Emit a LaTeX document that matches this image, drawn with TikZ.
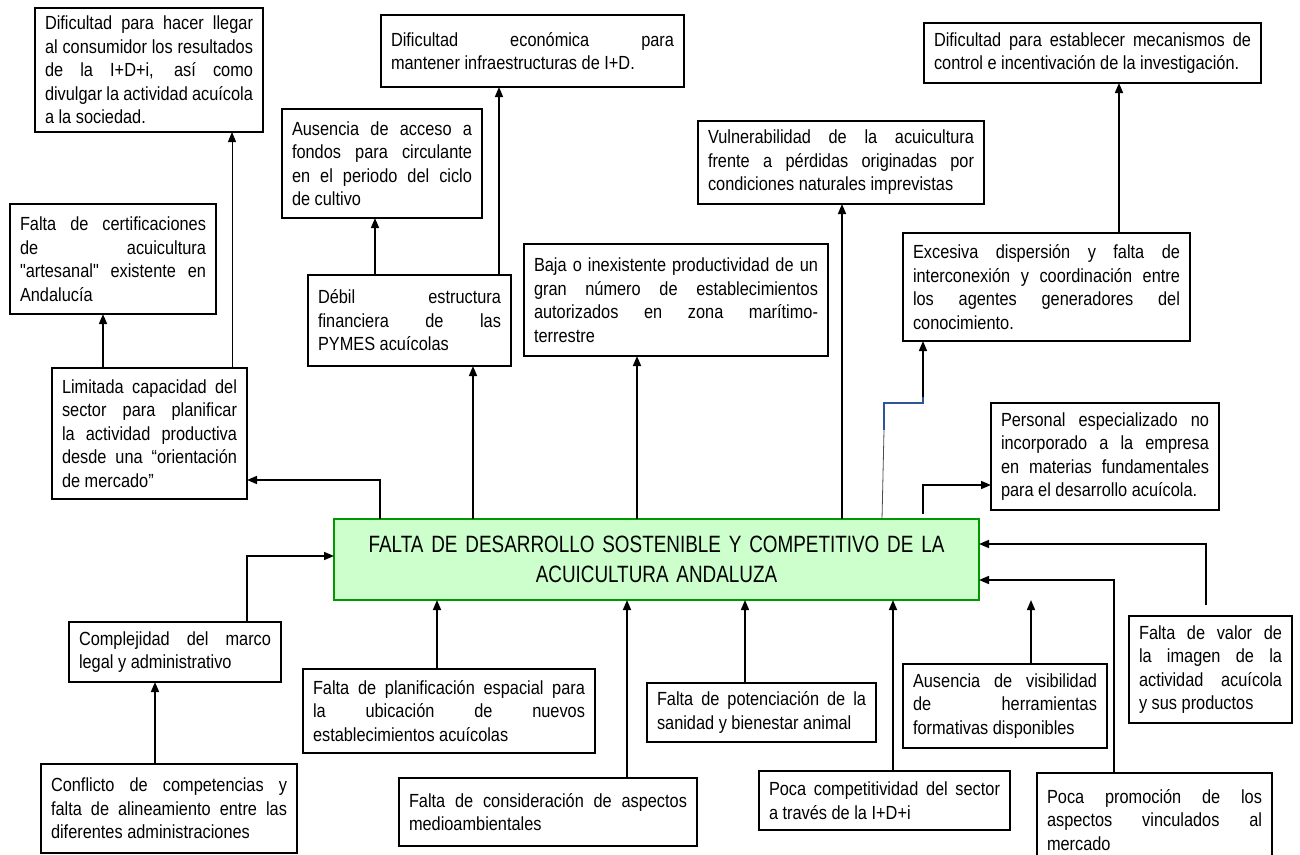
\documentclass[tikz,border=0pt]{standalone}
\usepackage{fontspec}
\newfontfamily\bodyfont[FakeStretch=0.86,Ligatures=TeXOff]{Liberation Sans}
\newfontfamily\titlefont[FakeStretch=0.8]{Liberation Sans}
\usetikzlibrary{arrows.meta,calc}
\definecolor{mainline}{RGB}{0,153,0}
\definecolor{mainfill}{RGB}{204,255,204}
\definecolor{bluelink}{RGB}{47,85,151}
\newlength\boxw
\newcommand\J[1]{\hbox to \boxw{\spaceskip=0pt\xspaceskip=0pt #1}}
\newcommand\Lst[1]{\hbox{\spaceskip=0pt\xspaceskip=0pt #1}}
\newcommand\Tx[1]{\vbox{\spaceskip=0pt\xspaceskip=0pt #1}}
\hbadness=10000
\begin{document}
\begin{tikzpicture}[x=1pt,y=-1pt,
  box/.style={draw, line width=1.6pt, inner xsep=10pt, inner ysep=0pt, outer sep=0pt,
    align=left, fill=white, font=\bodyfont\fontsize{19}{23.5}\selectfont},
  tw/.style={text width=#1, execute at begin node={\setlength{\boxw}{#1}}},
  mainbox/.style={draw=mainline, fill=mainfill, line width=1.6pt, inner sep=0pt, outer sep=0pt,
    align=center, font=\titlefont\fontsize{23.6}{30}\selectfont},
  arr/.style={line width=1.6pt, -{Triangle[length=10pt,width=8pt]}},
  thinarr/.style={line width=0.9pt, -{Triangle[length=10pt,width=8pt]}},
  bluepath/.style={draw=bluelink, line width=1.3pt},
  graypath/.style={draw=black!70, line width=0.8pt}]
\fill[white] (0,0) rectangle (1300,854);
\useasboundingbox (0,0) rectangle (1300,854);

% top area
\node[box, tw=208pt, minimum height=124pt] (A) at (149,70)
  {\Tx{\J{Dificultad para hacer llegar}\J{al consumidor los resultados}\J{de la I+D+i, así como}\J{divulgar la actividad acuícola}\Lst{a la sociedad.}}};
\node[box, tw=283pt, minimum height=72pt] (B) at (532.5,51)
  {\Tx{\J{Dificultad económica para}\Lst{mantener infraestructuras de I+D.}}};
\node[box, tw=180pt, minimum height=109pt] (C) at (382,163.5)
  {\Tx{\J{Ausencia de acceso a}\J{fondos para circulante}\J{en el periodo del ciclo}\Lst{de cultivo}}};
\node[box, tw=186pt, minimum height=110pt] (D) at (113,259)
  {\Tx{\J{Falta de certificaciones}\J{de acuicultura}\J{"artesanal" existente en}\Lst{Andalucía}}};
\node[box, tw=183pt, minimum height=91pt] (E) at (409.5,320.5)
  {\Tx{\J{Débil estructura}\J{financiera de las}\Lst{PYMES acuícolas}}};
\node[box, tw=284pt, minimum height=112pt] (F) at (676,300)
  {\Tx{\J{Baja o inexistente productividad de un}\J{gran número de establecimientos}\J{autorizados en zona marítimo-}\Lst{terrestre}}};
\node[box, tw=175pt, minimum height=131pt] (G) at (149.5,433.5)
  {\Tx{\J{Limitada capacidad del}\J{sector para planificar}\J{la actividad productiva}\J{desde una “orientación}\Lst{de mercado”}}};
\node[box, tw=317pt, minimum height=60pt] (H) at (1092.5,53)
  {\Tx{\J{Dificultad para establecer mecanismos de}\Lst{control e incentivación de la investigación.}}};
\node[box, tw=266pt, minimum height=83pt] (I) at (841,162.5)
  {\Tx{\J{Vulnerabilidad de la acuicultura}\J{frente a pérdidas originadas por}\Lst{condiciones naturales imprevistas}}};
\node[box, tw=267pt, minimum height=108pt] (J) at (1046.5,287)
  {\Tx{\J{Excesiva dispersión y falta de}\J{interconexión y coordinación entre}\J{los agentes generadores del}\Lst{conocimiento.}}};
\node[box, tw=208pt, minimum height=107pt] (K) at (1105,456.5)
  {\Tx{\J{Personal especializado no}\J{incorporado a la empresa}\J{en materias fundamentales}\Lst{para el desarrollo acuícola.}}};

% central box
\node[mainbox, minimum width=645pt, minimum height=81pt, text width=620pt] (main) at (656.5,559.5)
  {FALTA DE DESARROLLO SOSTENIBLE Y COMPETITIVO DE LA\\ ACUICULTURA ANDALUZA};

% bottom area
\node[box, tw=192pt, minimum height=60pt] (L) at (175,652)
  {\Tx{\J{Complejidad del marco}\Lst{legal y administrativo}}};
\node[box, tw=236pt, minimum height=89pt] (M) at (169,808.5)
  {\Tx{\J{Conflicto de competencias y}\J{falta de alineamiento entre las}\Lst{diferentes administraciones}}};
\node[box, tw=272pt, minimum height=84pt] (N) at (449,711)
  {\Tx{\J{Falta de planificación espacial para}\J{la ubicación de nuevos}\Lst{establecimientos acuícolas}}};
\node[box, tw=278pt, minimum height=68pt] (O) at (548,812)
  {\Tx{\J{Falta de consideración de aspectos}\Lst{medioambientales}}};
\node[box, tw=209pt, minimum height=59pt] (P) at (761.5,712.5)
  {\Tx{\J{Falta de potenciación de la}\Lst{sanidad y bienestar animal}}};
\node[box, tw=231pt, minimum height=59pt] (Q) at (884.5,800.5)
  {\Tx{\J{Poca competitividad del sector}\Lst{a través de la I+D+i}}};
\node[box, tw=184pt, minimum height=84pt] (R) at (1005,706)
  {\Tx{\J{Ausencia de visibilidad}\J{de herramientas}\Lst{formativas disponibles}}};
\node[box, tw=143pt, minimum height=107pt] (S) at (1210.5,669.5)
  {\Tx{\J{Falta de valor de}\J{la imagen de la}\J{actividad acuícola}\Lst{y sus productos}}};
\node[box, tw=215pt, minimum height=94pt] (T) at (1154.5,820)
  {\Tx{\J{Poca promoción de los}\J{aspectos vinculados al}\Lst{mercado}}};

% free-end coordinates
\coordinate (Rtip) at (1031,600);
\coordinate (b1) at (884,430);
\coordinate (b2) at (923,377);
\coordinate (b3) at (923,397);

% connectors from central box upward
\draw[arr] (main.north -| 380,0) |- (G.east |- 0,480);
\draw[arr] (main.north -| 473,0) -- (E.south -| 473,0);
\draw[arr] (main.north -| 637,0) -- (F.south -| 637,0);
\draw[arr] (main.north -| 842,0) -- (I.south -| 842,0);
\draw[graypath] (main.north -| 882,0) -- (b1);
\draw[bluepath] (b1) |- (b2 |- 0,403) -- (b2);
\draw[arr] (b3) -- (J.south -| b3);
\draw[arr] ($(main.north -| 923,0)+(0,-5)$) |- (K.west |- 0,485);

% upper chains
\draw[arr] (G.north -| 103,0) -- (D.south -| 103,0);
\draw[thinarr] (G.north -| 232,0) -- (A.south -| 232,0);
\draw[arr] (E.north -| 375,0) -- (C.south -| 375,0);
\draw[arr] (E.north -| 499,0) -- (B.south -| 499,0);
\draw[arr] (J.north -| 1119,0) -- (H.south -| 1119,0);

% lower connectors into the central box
\draw[arr] (L.north -| 247,0) |- (main.west |- 0,556);
\draw[arr] (M.north -| 155,0) -- (L.south -| 155,0);
\draw[arr] (N.north -| 437,0) -- (main.south -| 437,0);
\draw[arr] (O.north -| 627,0) -- (main.south -| 627,0);
\draw[arr] (P.north -| 745,0) -- (main.south -| 745,0);
\draw[arr] (Q.north -| 893,0) -- (main.south -| 893,0);
\draw[arr] (R.north -| Rtip) -- (Rtip);
\draw[arr] ($(S.north -| 1206,0)+(0,-11)$) |- (main.east |- 0,544);
\draw[arr] (T.north -| 1114,0) |- (main.east |- 0,580);
\end{tikzpicture}
\end{document}
